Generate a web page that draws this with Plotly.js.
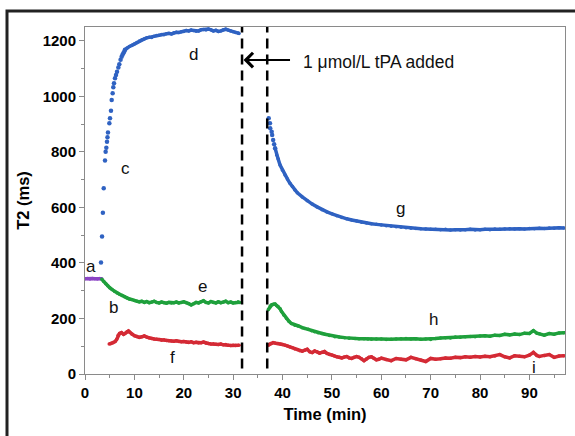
<!DOCTYPE html>
<html>
<head>
<meta charset="utf-8">
<script src="https://cdn.plot.ly/plotly-3.0.1.min.js"></script>
<style>html,body{margin:0;padding:0;background:#fff;}#chart{width:575px;height:436px;}</style>
</head>
<body>
<div id="chart"></div>
<script>
// ---- data ----
// a: baseline (purple)
const xa = [0, 0.5, 1, 1.5, 2, 2.5, 3, 3.4];
const ya = [343, 344, 342, 344, 343, 342, 344, 343];

// c: blue rise (discrete dots)
const xc = [3.24, 3.45, 3.62, 3.79, 4.05, 4.18, 4.32, 4.45, 4.55, 4.65, 4.93, 5.06, 5.26, 5.4, 5.6, 5.73, 5.87, 6.07, 6.28, 6.48, 6.75, 6.95, 7.2, 7.42, 7.6, 7.76, 7.95, 8.1];
const yc = [402, 495, 581, 669, 769, 801, 815, 837, 853, 870, 903, 921, 948, 987, 1011, 1033, 1047, 1065, 1077, 1089, 1104, 1116, 1132, 1143, 1150, 1155, 1162, 1168];

// d: blue plateau
const xd = [8.1, 8.5, 9, 9.5, 10, 10.5, 11, 11.5, 12, 12.5, 13, 13.5, 14, 14.5, 15, 15.5, 16, 16.5, 17, 17.5, 18, 18.5, 19, 19.5, 20, 20.5, 21, 21.5, 22, 22.5, 23, 23.5, 24, 24.5, 25, 25.5, 26, 26.5, 27, 27.5, 28, 28.5, 29, 29.5, 30, 30.5, 31, 31.2];
const yd = [1168, 1174, 1180, 1184, 1189, 1194, 1200, 1204, 1207, 1211, 1213, 1212, 1217, 1219, 1220, 1223, 1222, 1226, 1227, 1225, 1229, 1231, 1230, 1233, 1234, 1237, 1236, 1239, 1237, 1235, 1236, 1240, 1241, 1239, 1243, 1240, 1236, 1238, 1234, 1236, 1240, 1242, 1239, 1236, 1233, 1230, 1228, 1227];

// b/e: green before tPA
const xe = [3.4, 3.8, 4.2, 4.6, 5, 5.5, 6, 6.5, 7, 7.5, 8, 8.5, 9, 9.5, 10, 10.5, 11, 11.5, 12, 12.5, 13, 13.5, 14, 14.5, 15, 15.5, 16, 16.5, 17, 17.5, 18, 18.5, 19, 19.5, 20, 20.5, 21, 21.5, 22, 22.5, 23, 23.5, 24, 24.5, 25, 25.5, 26, 26.5, 27, 27.5, 28, 28.5, 29, 29.5, 30, 30.5, 31, 31.3];
const ye = [341, 333, 325, 318, 311, 304, 297, 292, 287, 283, 278, 274, 270, 268, 265, 262, 260, 262, 258, 261, 257, 259, 262, 258, 256, 259, 257, 255, 258, 256, 257, 259, 256, 258, 260, 257, 254, 249, 253, 258, 256, 260, 264, 258, 256, 261, 258, 256, 260, 257, 259, 262, 257, 259, 256, 258, 260, 258];

// f: red before tPA
const xf = [4.9, 5.3, 5.7, 6.1, 6.4, 6.7, 7.0, 7.4, 7.8, 8.1, 8.5, 8.8, 9.1, 9.5, 10, 10.5, 11, 11.5, 12, 12.5, 13, 13.5, 14, 14.5, 15, 15.5, 16, 16.5, 17, 17.5, 18, 18.5, 19, 19.5, 20, 20.5, 21, 21.5, 22, 22.5, 23, 23.5, 24, 24.5, 25, 25.5, 26, 26.5, 27, 27.5, 28, 28.5, 29, 29.5, 30, 30.5, 31.2];
const yf = [108, 110, 113, 117, 124, 140, 146, 149, 143, 146, 152, 155, 150, 143, 138, 135, 132, 134, 137, 133, 130, 128, 126, 125, 124, 122, 123, 121, 120, 119, 118, 120, 117, 116, 117, 115, 114, 116, 113, 114, 112, 113, 115, 111, 110, 108, 109, 107, 106, 108, 105, 106, 104, 103, 104, 103, 104];

// g: blue after tPA (first dots, then continuous)
const xg1 = [37.2, 37.45, 37.5, 37.8, 37.9, 38.1, 38.3, 38.5];
const yg1 = [921, 903, 885, 873, 861, 843, 828, 813];
const xg2 = [38.5, 38.8, 39.1, 39.5, 40, 40.5, 41, 41.5, 42, 42.5, 43, 44, 45, 46, 47, 48, 49, 50, 51, 52, 53, 54, 55, 56, 57, 58, 59, 60, 61, 62, 63, 64, 65, 66, 67, 68, 69, 70, 71, 72, 73, 74, 75, 76, 77, 78, 79, 80, 81, 82, 83, 84, 85, 86, 87, 88, 89, 90, 91, 92, 93, 94, 95, 96, 97];
const yg2 = [813, 789, 775, 753, 734, 717, 702, 687, 675, 663, 653, 638, 624, 612, 602, 592, 584, 577, 570, 564, 559, 555, 551, 547, 544, 541, 539, 537, 534, 532, 530, 529, 527, 525, 524, 523, 522, 521, 521, 520, 521, 519, 520, 519, 520, 521, 519, 520, 521, 520, 522, 521, 522, 523, 522, 523, 522, 524, 523, 525, 524, 526, 525, 527, 526];

// h: green after tPA
const xh = [37.1, 37.5, 37.8, 38.2, 38.5, 38.8, 39.1, 39.5, 39.8, 40.3, 40.8, 41.3, 41.8, 42.5, 43.2, 44, 44.5, 45.2, 45.9, 46.5, 47.2, 48, 48.6, 49.5, 50.6, 51.5, 52.6, 53.5, 54.7, 55.5, 56.5, 57.3, 58, 59, 60, 61, 62, 63, 64, 65, 66, 67, 68, 69, 70, 71, 72, 73, 74, 75, 76, 77, 78, 79, 80, 81, 82, 83, 84, 85, 86, 87, 88, 89, 90, 90.8, 91.5, 92, 93, 94, 95, 96, 97];
const yh = [231, 245, 249, 251, 252, 247, 243, 235, 225, 212, 200, 190, 182, 176, 173, 167, 164, 161, 156, 152, 149, 146, 143, 139, 134, 133, 131, 129, 128, 127, 127, 126, 125, 126, 126, 124, 125, 126, 127, 128, 126, 127, 125, 126, 124, 128, 130, 131, 130, 133, 132, 134, 135, 134, 137, 138, 136, 140, 139, 143, 141, 144, 142, 147, 146, 156, 147, 145, 140, 146, 143, 148, 149];

// i: red after tPA
const xi = [37.1, 37.6, 38.1, 38.6, 39.1, 39.6, 40, 40.5, 41, 41.5, 42, 42.5, 43, 43.5, 44, 44.5, 45, 45.5, 46, 46.5, 47, 47.5, 48, 48.5, 49, 49.5, 50, 50.5, 51, 51.5, 52, 52.5, 53, 53.5, 54, 54.5, 55, 55.5, 56, 56.5, 57, 57.5, 58, 58.5, 59, 59.5, 60, 61, 62, 63, 64, 65, 66, 67, 68, 69, 70, 71, 72, 73, 74, 75, 76, 77, 78, 79, 80, 81, 82, 83, 84, 85, 86, 87, 88, 89, 90, 90.8, 91.5, 92, 93, 94, 95, 96, 97];
const yi = [104, 110, 113, 111, 110, 108, 106, 104, 101, 97, 95, 90, 87, 84, 82, 86, 89, 80, 77, 83, 80, 75, 78, 81, 74, 70, 68, 65, 62, 60, 58, 61, 63, 58, 56, 60, 63, 60, 55, 48, 54, 60, 62, 57, 51, 53, 57, 52, 48, 56, 53, 51, 60, 55, 50, 45, 56, 53, 55, 58, 57, 60, 59, 62, 60, 63, 61, 64, 62, 65, 70, 62, 58, 66, 64, 62, 68, 78, 67, 63, 67, 70, 60, 65, 66];

// tPA events (dashed lines), axis ticks, curve labels
const eventTimes = [31.8, 36.9];
const xTicks = [0, 10, 20, 30, 40, 50, 60, 70, 80, 90];
const yTicks = [0, 200, 400, 600, 800, 1000, 1200];
const labelText = ['a', 'b', 'c', 'd', 'e', 'f', 'g', 'h', 'i'];
const labelX = [1.3, 5.7, 8.1, 21.9, 23.7, 17.8, 63.8, 70.6, 90.9];
const labelY = [386, 241, 739, 1150, 317, 58, 598, 198, 25];
const noteText = '1 \u03bcmol/L tPA added';

// ---- styles ----
const FONT = 'Liberation Sans, Arial, sans-serif';
const BLUE = '#2f62c2', GREEN = '#1fa03c', RED = '#d42a35', PURPLE = '#8a44c4';

function lineTrace(x, y, c) {
  return {x: x, y: y, type: 'scatter', mode: 'lines+markers',
    line: {color: c, width: 3.5}, marker: {color: c, size: 3.5}, hoverinfo: 'skip'};
}
const traces = [
  lineTrace(xa, ya, PURPLE),
  lineTrace(xd, yd, BLUE),
  lineTrace(xe, ye, GREEN),
  lineTrace(xf, yf, RED),
  lineTrace(xg2, yg2, BLUE),
  lineTrace(xh, yh, GREEN),
  lineTrace(xi, yi, RED),
  {x: xc, y: yc, type: 'scatter', mode: 'markers', marker: {color: BLUE, size: 4.5}},
  {x: xg1, y: yg1, type: 'scatter', mode: 'markers', marker: {color: BLUE, size: 4.5}}
];

const shapes = eventTimes.map(t => ({type: 'line', xref: 'x', yref: 'y', x0: t, x1: t, y0: 20, y1: 1250,
  line: {color: '#000', width: 2.5, dash: '10px,6px'}}));
shapes.push({type: 'rect', xref: 'paper', yref: 'paper', x0: -0.1625, x1: 1.06, y0: -0.35, y1: 1.046,
  line: {color: '#222', width: 3}, fillcolor: 'rgba(0,0,0,0)', layer: 'below'});

const annotations = labelText.map((t, k) => ({x: labelX[k], y: labelY[k], text: t, showarrow: false,
  font: {family: FONT, size: 17, color: '#111'}}));
annotations.push({x: 43.7, y: 1124, text: noteText, showarrow: false, xanchor: 'left',
  font: {family: FONT, size: 17.5, color: '#111'}});
annotations.push({x: 32.1, y: 1131, ax: 48, ay: 0, text: '', showarrow: true, arrowhead: 4,
  arrowsize: 1.4, arrowwidth: 2, arrowcolor: '#000'});

const axisCommon = {showgrid: false, zeroline: false, showline: true, linecolor: '#8a8a8a', linewidth: 1,
  mirror: true, ticks: 'outside', ticklen: 5, tickcolor: '#8a8a8a',
  tickfont: {family: FONT, size: 15, color: '#000', weight: 'bold'}};

const layout = {
  width: 575, height: 436, margin: {l: 85, r: 10, t: 27, b: 62},
  paper_bgcolor: '#fff', plot_bgcolor: '#fff', showlegend: false,
  xaxis: Object.assign({}, axisCommon, {range: [0, 97.2], tickvals: xTicks, ticktext: xTicks.map(String),
    minor: {ticks: 'outside', ticklen: 3, dtick: 5, tick0: 0, tickcolor: '#8a8a8a'},
    title: {text: 'Time (min)', font: {family: FONT, size: 16.5, color: '#000', weight: 'bold'}, standoff: 8}}),
  yaxis: Object.assign({}, axisCommon, {range: [0, 1250], tickvals: yTicks, ticktext: yTicks.map(String),
    minor: {ticks: 'outside', ticklen: 3, dtick: 100, tick0: 0, tickcolor: '#8a8a8a'},
    title: {text: 'T2 (ms)', font: {family: FONT, size: 16.5, color: '#000', weight: 'bold'}, standoff: 8}}),
  shapes: shapes, annotations: annotations
};

Plotly.newPlot('chart', traces, layout, {staticPlot: true, displayModeBar: false});
</script>
</body>
</html>
